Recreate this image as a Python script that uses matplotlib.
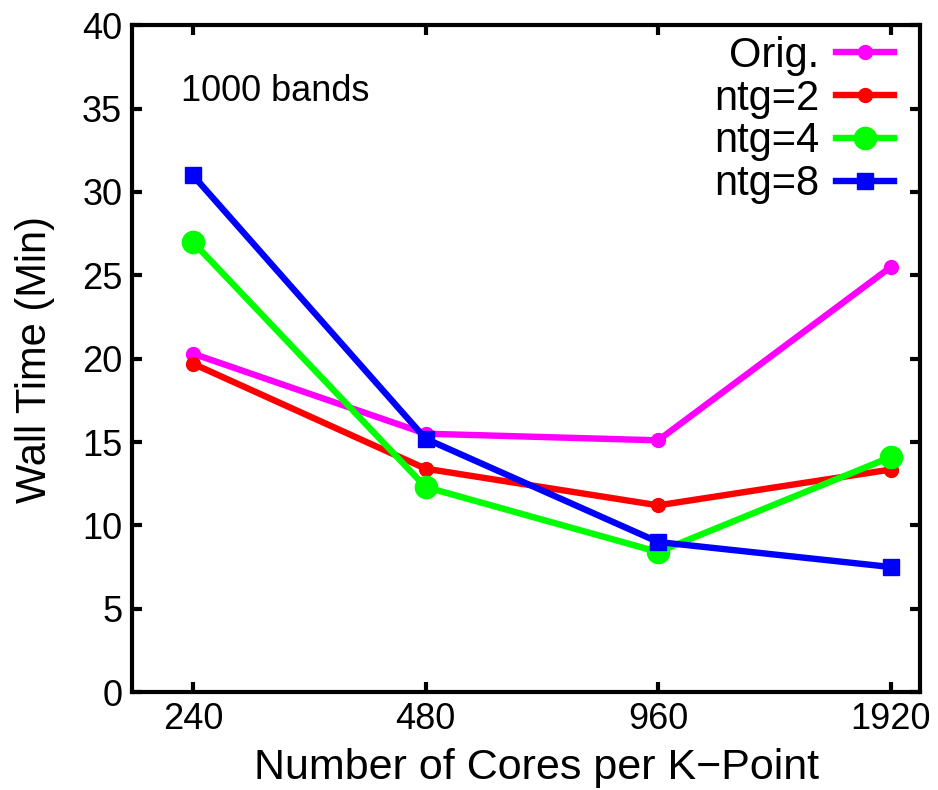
import matplotlib
matplotlib.use("Agg")
import matplotlib.pyplot as plt
from matplotlib.ticker import FixedLocator, FixedFormatter, NullLocator

plt.rcParams['font.family'] = ['Liberation Sans', 'DejaVu Sans']

cores = [240, 480, 960, 1920]
orig = [20.3, 15.5, 15.1, 25.5]
ntg2 = [19.7, 13.4, 11.2, 13.35]
ntg4 = [27.0, 12.3, 8.4, 14.1]
ntg8 = [31.0, 15.2, 9.0, 7.5]

fig = plt.figure(figsize=(9.38, 7.9), dpi=100)
ax = fig.add_axes([0.1407, 0.124, 0.84, 0.844])

lw = 4.6
ax.plot(cores, orig, color='#ff00ff', lw=lw, marker='o', ms=10, label='Orig.')
ax.plot(cores, ntg2, color='#ff0000', lw=lw, marker='o', ms=10, label='ntg=2')
ax.plot(cores, ntg4, color='#00ff00', lw=lw, marker='o', ms=16, label='ntg=4')
ax.plot(cores, ntg8, color='#0000ff', lw=lw, marker='s', ms=11, label='ntg=8')

ax.set_xscale('log', base=2)
ax.set_xlim(240 * 2 ** -0.262, 1920 * 2 ** 0.125)
ax.set_ylim(0, 40)
ax.xaxis.set_major_locator(FixedLocator(cores))
ax.xaxis.set_major_formatter(FixedFormatter([str(c) for c in cores]))
ax.xaxis.set_minor_locator(NullLocator())
ax.set_yticks(range(0, 41, 5))

for s in ax.spines.values():
    s.set_linewidth(3)
ax.tick_params(direction='in', length=7, width=3, labelsize=26,
               top=True, right=True, pad=7)

ax.set_xlabel('Number of Cores per K\u2212Point', fontsize=31)
ax.set_ylabel('Wall Time (Min)', fontsize=30)
ax.xaxis.set_label_coords(0.513, -0.084)
ax.yaxis.set_label_coords(-0.098, 0.499)

ax.text(0.062, 0.9, '1000 bands', transform=ax.transAxes, fontsize=26,
        ha='left', va='center')

ax.legend(loc='upper right', frameon=False, markerfirst=False, fontsize=30,
          handlelength=1.4, handletextpad=0.4, labelspacing=0.07,
          borderaxespad=0.2, bbox_to_anchor=(0.999, 1.022))

fig.savefig('out.png', dpi=100)
